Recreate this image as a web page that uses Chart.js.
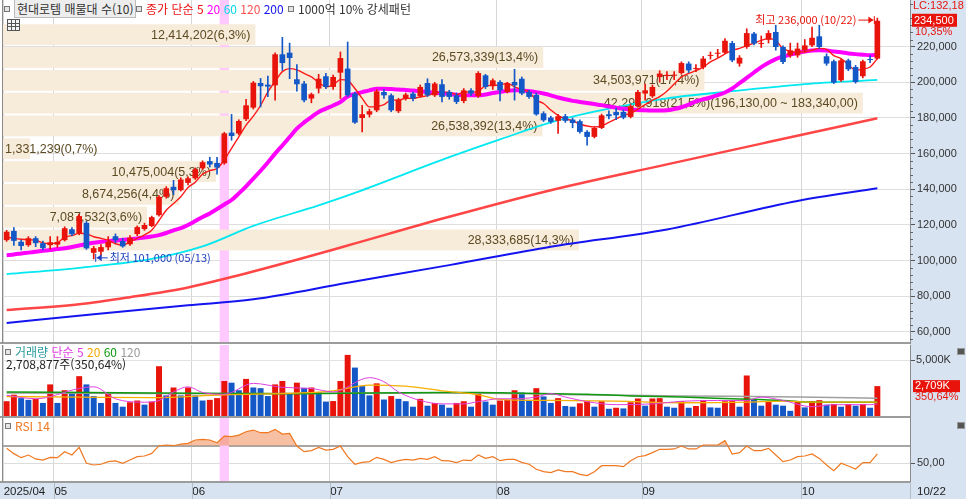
<!DOCTYPE html>
<html lang="ko">
<head>
<meta charset="UTF-8">
<title>현대로템 일봉</title>
<script src="https://cdn.jsdelivr.net/npm/chart.js"></script>
<style>
  body { margin: 0; background: #fff; font-family: "Noto Sans CJK KR", sans-serif; }
  #wrap { position: relative; width: 966px; height: 499px; overflow: hidden; }
  canvas { position: absolute; left: 0; }
  .leg { position: absolute; font-size: 12px; line-height: 14px; white-space: nowrap; color: #333; }
  .ico { display: inline-block; width: 4px; height: 4px; border: 1px solid #777; background: #e4e4e4; margin-right: 4px; vertical-align: 2px; }
  .box { background: #ededed; border: 1px solid #bcbcbc; padding: 0 2px; }
  .tbl { position: absolute; left: 7px; top: 19px; width: 11px; height: 10px; border: 1px solid #555; background:
    linear-gradient(#555, #555) 0 3px / 100% 1px no-repeat,
    linear-gradient(#555, #555) 0 6px / 100% 1px no-repeat,
    linear-gradient(#555, #555) 3px 0 / 1px 100% no-repeat,
    linear-gradient(#555, #555) 7px 0 / 1px 100% no-repeat, #f4f4f4; }
  .pin { position: absolute; width: 6px; height: 5px; background: #555; border: 1px solid #999; }
</style>
</head>
<body>
<div id="wrap">
  <canvas id="cPrice" width="966" height="345" style="top:0"></canvas>
  <canvas id="cVol" width="966" height="74" style="top:344px"></canvas>
  <canvas id="cRsi" width="966" height="81" style="top:418px"></canvas>

  <div class="leg" style="left:4px;top:2px"><span class="ico"></span><span class="box">현대로템 매물대 수(10)</span></div>
  <div class="leg" style="left:136px;top:2px"><span class="ico"></span><span style="color:#ee1111">종가 단순 5</span> <span style="color:#ff00ff">20</span> <span style="color:#00d8e8">60</span> <span style="color:#ff5050">120</span> <span style="color:#1414f0">200</span></div>
  <div class="leg" style="left:288px;top:2px"><span class="ico"></span>1000억 10% 강세패턴</div>
  <div class="tbl"></div>

  <div class="leg" style="left:5px;top:345px"><span class="ico"></span><span style="color:#2a9a9a">거래량</span> <span style="color:#e040e0">단순 5</span> <span style="color:#f5a800">20</span> <span style="color:#109a10">60</span> <span style="color:#9a9a9a">120</span></div>
  <div class="leg" style="left:6px;top:357px;color:#222">2,708,877주(350,64%)</div>
  <div class="pin" style="left:957px;top:348px"></div>

  <div class="leg" style="left:5px;top:419px"><span class="ico"></span><span style="color:#f07820">RSI 14</span></div>
  <div class="pin" style="left:957px;top:422px"></div>
</div>

<script>
// ---- data (prices in thousand won, volume in thousand shares) ----
const firstYear = '2025';
const dates = [
  '04/22','04/23','04/24','04/25','04/28','04/29','04/30',
  '05/02','05/07','05/08','05/09','05/12','05/13','05/14','05/15','05/16','05/19','05/20','05/21','05/22','05/23','05/26','05/27','05/28','05/29','05/30',
  '06/02','06/04','06/05','06/09','06/10','06/11','06/12','06/13','06/16','06/17','06/18','06/19','06/20','06/23','06/24','06/25','06/26','06/27','06/30',
  '07/01','07/02','07/03','07/04','07/07','07/08','07/09','07/10','07/11','07/14','07/15','07/16','07/17','07/18','07/21','07/22','07/23','07/24','07/25','07/28','07/29','07/30','07/31',
  '08/01','08/04','08/05','08/06','08/07','08/08','08/11','08/12','08/13','08/14','08/18','08/19','08/20','08/21','08/22','08/25','08/26','08/27','08/28','08/29',
  '09/01','09/02','09/03','09/04','09/05','09/08','09/09','09/10','09/11','09/12','09/15','09/16','09/17','09/18','09/19','09/22','09/23','09/24','09/25','09/26','09/29','09/30',
  '10/01','10/02','10/10','10/13','10/14','10/15','10/16','10/17','10/20','10/21','10/22'
];
const emptySlots = 4;

const open = [111.5,116.7,110.6,108.7,112.6,109.8,108.7,109,111.5,117.6,
  115.4,121.2,104.4,105,107.5,113.7,111,109.2,114.9,117.7,
  119.4,125.5,135.8,141.4,139.5,143.6,146.2,151.8,155.8,154.8,
  154.6,171.8,171.3,179.3,185.8,199.6,198.7,198.3,215.7,216.6,
  201.7,199.3,190.9,196.5,203.4,197.4,205.4,207.7,193.7,180,
  181.9,184.3,194.6,192.7,183.8,190.9,193.7,192.2,199.6,192.7,
  198.9,194.6,192.7,189.5,195.5,192.2,203.9,197.8,200.2,194.6,
  200.2,202,194.6,193,182.6,180.2,178.4,181,179.1,178.2,
  172.2,169.4,174.4,182.1,183.4,183.4,180.6,186.6,193.7,192.2,
  203,203.5,203.7,205.2,210.5,207.5,208.4,214.8,216,216.6,
  222,210.5,219.8,227.3,221.5,223.9,228.2,219.8,215.1,215.1,
  217.9,220.7,225.8,214.6,211.8,201.1,212.3,208.6,203.4,213,213.3];
const high = [117,118.6,111.5,113.5,113.5,111,113.5,113.5,119,118.5,
  126,122,108,109,113.5,115,112.5,114,119.5,121,
  125,136.5,141.5,145,146.5,147,152,156,158,158,
  172,182,179,190.5,200.5,202.2,203.5,216.5,225.2,222,
  210,200.5,194,204.5,205,204,217,222.6,194.5,187.1,
  185,196,196,193.5,191,194,194.5,198.5,202,200,
  201.5,195.5,194,196.5,196.5,206,204.5,202,201,200,
  207.3,203,195.5,194,183.5,181,182,182,180,179,
  173,175,182.2,184,185.5,184.5,187.5,195.5,199,198.5,
  206.5,206,206,211.5,211.5,210,214.5,217,218.5,224.5,
  223,215,230,228,226,229,232,220.5,222,222,
  224,231,232,216,212.5,213,213,209.5,212.5,215,236];
const low = [110.8,108.5,106,108,107.8,106,106.5,107.5,111,114,
  114.5,106.3,101,103,106,110,107.5,108.5,114,117,
  119,125,135,137,139,142.5,145.5,151,152.5,148.5,
  154,167.5,170.5,178.5,185,186.2,192,190,206.7,202,
  195,189,188.5,194,196.5,196,190.9,192,177,172.2,
  180.5,183.5,191,183.5,183,190,189.5,191.5,192,192,
  189,190.5,188,188.5,192.5,191.5,196.5,196,189.5,194,
  190,193,191,181.5,178,177,171.4,177.5,174.5,171.5,
  164.7,168.8,174,179.5,179,179.5,180,186,190,191.5,
  200,201.5,201.5,204.5,205.5,206,207.5,213,214,216,
  211.5,209,219,221,219.5,222,218,210.5,214,214,
  217,220,219,209.5,199.3,200.5,206.5,199.5,202.5,211,213];
const close = [116.2,111.1,108.2,112.6,109.8,107,110.3,110.5,118.2,114.8,
  125,106.9,107,107.6,110.6,111.5,108,112.9,118.8,120,
  124.4,135.8,140.6,139.5,145.5,146.2,151.3,155.2,153.9,152.2,
  171.4,169.9,178.3,187.1,199.8,197.8,197.6,215.7,210.8,213.6,
  198.9,189.9,193.3,202,197.4,203,213.6,192.7,177.4,182.1,
  183.8,195,192.7,184.3,190.3,193.1,190.9,197.4,192.7,199.3,
  191.8,191.8,189,195.5,193.7,205.2,197.4,201.1,195.5,199.3,
  198.3,193.7,191.8,182,178.7,177.8,181,178.4,177.2,172.2,
  169.4,174.4,181.5,181,181.5,180.2,186.6,194.6,195.5,197.4,
  204.9,204.2,204.3,210.8,206.7,208,213.3,215.3,216.6,223.3,
  212.3,213.8,227.6,221.7,222,227.6,219.8,211.4,217.9,218.9,
  220.7,225,219.8,210.5,199.8,212.3,207.3,200.2,211.8,212.5,234.5];

const ma5 = [113.2,112.5,112,111.7,111.5,110,109.6,110,113.2,114,
  115.4,115,113.4,112.5,111.5,109.5,108.7,110.6,112.5,114.5,
  117.1,122.5,128.3,132,135.8,141,144,148.5,150.5,151.7,
  156.5,163,169.4,176,181,187,194.6,200.5,206,207.7,
  207,205,203,200,197.4,198.5,201.5,201,196.5,191,
  186.2,186.5,187.5,190,190,191,191,191.8,192.5,194,
  194.5,194.5,193,194.6,194.5,195,198,198.3,198.5,199.5,
  197.4,196,194.6,190,188.1,184.5,181.5,179.5,178.5,176.5,
  175.5,175,175.5,177.5,179.5,181.5,182.5,185,187.5,190,
  192,195,199,203,205,206.5,208.5,211.5,213.5,216,
  217.9,219,220.5,222,223.5,224.5,223.5,218.9,217.5,217,
  217,218,219,218.5,215,213.3,210,206.7,207.5,208.6,213.3];
const ma20 = [103.1,103.5,104,104.5,105,105.5,106,106.5,106.9,107.7,
  108.5,109.3,110,110.6,111,111.3,111.7,112,112.5,113,
  113.6,114.3,115.5,117,118.2,120,122.2,124.5,126.5,129,
  131.5,134,137.7,141.7,146,150.4,155,160,164.6,169.3,
  174,177.5,180.5,183.4,185.2,187,189,192,193.5,194.5,
  195.5,196.4,196.4,196.2,196,195.7,195.4,195,194.6,194.2,
  193.8,193.4,193,192.8,192.7,192.7,193.2,194,194.6,195.2,
  195.5,195.4,195,194.5,193.7,192.7,191.5,190.5,189.6,189,
  188.4,187.8,187.2,186.4,185.8,185.2,184.8,184.5,184.3,184.2,
  184.2,184.3,185,186,187.5,189.3,190.5,191.5,192.8,194.3,
  196.5,199.5,202.5,205.5,208.5,211,213,214.5,215.5,216.5,
  217.2,217.8,218,217.8,217.3,216.8,216.2,215.8,215.5,215.2,215.5];
// slow averages read at a few days
const ma60At = [0,10,20,27,34,43,48,61,68,75,81,91,100,110,120];
const ma60 = [92.5,96,101,108,119.5,131,138,158,168,177.5,183.5,191,195,199,201.4];
const ma120At = [0,10,17,25,31,40,47,61,75,91,105,120];
const ma120 = [72.3,75.5,79.5,85,90.8,100.5,108.5,124.6,139.5,154,166.5,179.8];
const ma200At = [0,12,25,34,47,61,75,91,109,120];
const ma200 = [65,70,75,78.3,87.6,97.5,107.8,117.5,133.5,140.6];

const priceTicks = [60,80,100,120,140,160,180,200,220];
const lcText = 'LC:132,18';

// volume profile (10 bands, bottom to top)
const profileEdges = [106.60,119.39,132.18,144.97,157.76,170.55,183.34,196.13,208.92,221.71,234.50];
const profileVolume = [28333685,7087532,8674256,10475004,1331239,26538392,42295918,34503971,26573339,12414202];
const profilePct = [14.3,3.6,4.4,5.3,0.7,13.4,21.5,17.4,13.4,6.3];

const patternDays = ['06/10'];

const volume = [1385,1957,1656,1505,1595,1234,2859,1234,2348,2197,
  3582,2859,1836,1234,2137,1234,903,1294,1445,1084,
  1354,4455,1896,2588,1896,2588,1896,1445,1505,1656,
  3160,3010,2348,3341,2588,2528,1836,2859,3160,2047,
  3010,2558,2588,2197,1354,1400,3160,5448,4335,2709,
  1896,2951,1535,1836,1595,1385,903,1595,993,1234,
  1084,813,1234,1385,903,2107,1355,1084,1445,1505,
  2348,2137,1505,2528,1805,1234,1656,963,903,1204,
  1385,903,1385,722,813,753,1294,1625,993,1625,
  1655,903,813,1385,813,963,1475,843,813,1385,
  1400,903,3642,1505,993,1354,1084,993,542,1354,
  843,1385,1475,1084,1144,903,1144,993,1144,813,2709];
const volRatioText = '350,64%';
const volTicks = [5000];
const volMa5At = [0,4,10,12,15,19,21,23,25,27,30,34,38,42,45,50,52,54,57,60,63,65,68,70,73,75,77,80,84,89,93,98,102,104,107,111,114,119,120];
const volMa5 = [1900,1600,2500,2650,1600,1300,1450,2200,2650,2150,2000,2950,2600,2500,2200,3450,3100,2200,1450,1150,1150,1350,1600,1600,1750,2050,1750,1350,1080,1150,1380,1450,1450,1750,1450,900,1080,1080,1150];
const volMa20At = [0,10,20,30,40,45,50,55,60,65,68,75,84,93,102,107,111,120];
const volMa20 = [1800,1750,1700,1950,2100,2300,2800,2700,2300,1950,1550,1450,1400,1250,1300,1400,1300,1300];
const volMa60At = [0,20,40,60,65,70,80,86,93,100,107,111,120];
const volMa60 = [2200,2100,2050,2150,2150,2100,2000,1850,1750,1600,1450,1300,1300];
const volMa120At = [0,30,60,86,93,109,120];
const volMa120 = [2100,2050,2100,1900,1850,1750,1650];

const rsi = [67,61,56.4,59.4,55,53.7,56.8,56.4,63.2,59.4,
  68.1,50,48.1,48.9,51.9,52.7,50,53.7,57.5,58.3,
  61.3,70,70.8,70,71.9,72.7,76.5,77.2,76.5,73.4,
  81,80.3,82.1,85.9,87.8,84.8,84.8,88.6,83.3,84,
  69.6,63.2,64.4,68.1,65.1,65.9,69.6,57.5,48.9,51.1,
  51.9,56.8,54.5,50.8,53,54.5,53.7,55.6,54.5,57.5,
  53,52.7,50.8,53.7,53,59.4,55.6,57.5,53,54.5,
  54.5,51.1,48.9,43.2,40.5,39.4,42.4,40.5,40.5,37.5,
  36,40.5,47.3,47.3,47.3,46.2,53,57.5,58.7,62.1,
  65.9,65.9,66.3,69.6,66.3,66.3,70.8,70.8,70.8,75.7,
  60.6,62.1,69.6,64.4,64.4,67,59.4,51.9,53.7,57.5,
  58.3,60.6,55.6,48.1,41.6,50,47,43.6,50.8,50.8,60.6];
const rsiTicks = [50, 70];

// ---- helpers ----
const RED = '#e8140c', BLUE = '#1458c8';
const slots = dates.concat(Array(emptySlots).fill(''));
const monthStart = dates.map((d, i) => i === 0 || d.slice(0, 2) !== dates[i - 1].slice(0, 2));
const won = v => Math.round(v * 1000).toLocaleString('en-US');
const pts = (at, vals) => at.map((i, k) => ({ x: dates[i], y: vals[k] }));
const monthGrid = c => monthStart[c.index] ? '#d6d6d6' : 'rgba(0,0,0,0)';

const candleColors = close.map((c, i) => c >= open[i] ? RED : BLUE);
const bodies = close.map((c, i) => [open[i], c]);
const wicks = low.map((l, i) => [l, high[i]]);
const volColors = volume.map((v, i) => i === 0 || v > volume[i - 1] ? RED : BLUE);

function line(data, color, width, order) {
  return { type: 'line', data, borderColor: color, borderWidth: width, pointRadius: 0,
    cubicInterpolationMode: 'monotone', fill: false, order };
}

// no label padding: the plot area must fill the panel exactly
const noPad = s => { s.paddingTop = 0; s.paddingBottom = 0; s.paddingLeft = 0; s.paddingRight = 0; };

function xScale(extra) {
  return Object.assign({
    type: 'category', offset: true,
    grid: { color: monthGrid, offset: true, drawTicks: false },
    border: { display: false },
    ticks: { display: false, autoSkip: false },
    afterFit: s => { s.height = 0; noPad(s); }
  }, extra || {});
}

const axisFont = { family: '"Liberation Sans", sans-serif', size: 11 };

function drawArrow(ctx, x1, x2, y) {
  const dir = Math.sign(x2 - x1);
  ctx.beginPath(); ctx.moveTo(x1, y); ctx.lineTo(x2, y); ctx.stroke();
  ctx.beginPath(); ctx.moveTo(x2, y); ctx.lineTo(x2 - dir * 5, y - 3.5); ctx.lineTo(x2 - dir * 5, y + 3.5); ctx.closePath(); ctx.fill();
  ctx.beginPath(); ctx.moveTo(x2 + dir, y - 4); ctx.lineTo(x2 + dir, y + 4); ctx.stroke();
}

// ---- plugins ----
const axisBg = {
  id: 'axisBg',
  beforeDraw(chart) {
    const { ctx, chartArea: a, width, height } = chart;
    ctx.save();
    ctx.fillStyle = '#d7e3f1';
    ctx.fillRect(a.right, 0, width - a.right, height);
    ctx.restore();
  }
};

const frame = {
  id: 'frame',
  afterDraw(chart) {
    const { ctx, chartArea: a } = chart;
    ctx.save();
    ctx.strokeStyle = '#9c9c9c'; ctx.lineWidth = 2;
    ctx.beginPath(); ctx.moveTo(0, a.bottom); ctx.lineTo(a.right, a.bottom); ctx.stroke();
    ctx.lineWidth = 1; ctx.strokeStyle = '#8a8a8a';
    ctx.beginPath(); ctx.moveTo(a.left - 0.5, a.top); ctx.lineTo(a.left - 0.5, a.bottom); ctx.stroke();
    ctx.restore();
  }
};

const pattern = {
  id: 'pattern',
  beforeDatasetsDraw(chart) {
    const { ctx, chartArea: a, scales: { x } } = chart;
    const slot = x.getPixelForValue(1) - x.getPixelForValue(0);
    ctx.save();
    ctx.fillStyle = '#ffc8ff';
    patternDays.forEach(d => {
      const cx = x.getPixelForValue(dates.indexOf(d));
      ctx.fillRect(cx - slot / 2 - 1, a.top, slot + 2, a.bottom - a.top);
    });
    ctx.restore();
  }
};

const profile = {
  id: 'profile',
  beforeDatasetsDraw(chart) {
    const { ctx, chartArea: a, scales: { y, xp } } = chart;
    const shift = 2.5;
    const maxI = profileVolume.indexOf(Math.max(...profileVolume));
    ctx.save();
    ctx.beginPath(); ctx.rect(a.left, a.top, a.right - a.left, a.bottom - a.top); ctx.clip();
    const x0 = xp.getPixelForValue(0);
    const bands = profileVolume.map((vol, i) => ({
      top: y.getPixelForValue(profileEdges[i + 1]) + shift + 1,
      bot: y.getPixelForValue(profileEdges[i]) + shift - 1,
      end: xp.getPixelForValue(vol)
    }));
    ctx.fillStyle = '#f7ebda';
    bands.forEach(b => ctx.fillRect(x0, b.top, b.end - x0, b.bot - b.top));
    ctx.font = '12.5px "Liberation Sans", sans-serif';
    ctx.fillStyle = '#5c4b22';
    ctx.textBaseline = 'middle';
    profileVolume.forEach((vol, i) => {
      let text = vol.toLocaleString('en-US') + '(' + profilePct[i].toFixed(1).replace('.', ',') + '%)';
      if (i === maxI) text += '(' + won(profileEdges[i + 1]) + ',00 ~ ' + won(profileEdges[i]) + ',00)';
      const b = bands[i];
      const w = ctx.measureText(text).width;
      const yc = (b.top + b.bot) / 2 + 0.5;
      if (b.end - 5 - w < x0 + 2) { ctx.textAlign = 'left'; ctx.fillText(text, x0 + 2, yc); }
      else { ctx.textAlign = 'right'; ctx.fillText(text, b.end - 5, yc); }
    });
    ctx.restore();
  }
};

const extremes = {
  id: 'extremes',
  afterDatasetsDraw(chart) {
    const { ctx, scales: { x, y } } = chart;
    const hi = Math.max(...high), hiI = high.indexOf(hi);
    const lo = Math.min(...low), loI = low.indexOf(lo);
    ctx.save();
    ctx.font = '11px "Noto Sans CJK KR", sans-serif';
    ctx.textBaseline = 'middle';
    ctx.lineWidth = 1;
    let cx = x.getPixelForValue(hiI), cy = y.getPixelForValue(hi) + 2;
    ctx.fillStyle = ctx.strokeStyle = RED;
    ctx.textAlign = 'right';
    ctx.fillText('최고 ' + won(hi) + ' (' + dates[hiI] + ')', cx - 21, cy);
    drawArrow(ctx, cx - 19, cx - 4, cy);
    cx = x.getPixelForValue(loI); cy = y.getPixelForValue(lo) - 1;
    ctx.fillStyle = ctx.strokeStyle = '#1d3fc0';
    ctx.textAlign = 'left';
    ctx.fillText('최저 ' + won(lo) + ' (' + dates[loI] + ')', cx + 16, cy);
    drawArrow(ctx, cx + 14, cx + 3, cy);
    ctx.restore();
  }
};

const priceTag = {
  id: 'priceTag',
  afterDraw(chart) {
    const { ctx, chartArea: a, scales: { y } } = chart;
    const last = close[close.length - 1], prev = close[close.length - 2];
    const yy = y.getPixelForValue(last);
    ctx.save();
    ctx.strokeStyle = '#666'; ctx.lineWidth = 1;
    for (let v = 56; v < 246; v += 4) {
      if (v % 20 === 0) continue;
      const py = Math.round(y.getPixelForValue(v)) + 0.5;
      ctx.beginPath(); ctx.moveTo(a.right, py); ctx.lineTo(a.right + 3, py); ctx.stroke();
    }
    ctx.font = axisFont.size + 'px ' + axisFont.family;
    ctx.textBaseline = 'middle'; ctx.textAlign = 'left';
    ctx.fillStyle = RED;
    ctx.fillText(lcText, a.right + 3, 6);
    ctx.fillRect(a.right + 2, yy - 7, 45, 13);
    ctx.fillText(((last / prev - 1) * 100).toFixed(2).replace('.', ',') + '%', a.right + 5, yy + 11);
    ctx.fillStyle = '#fff';
    ctx.fillText(won(last), a.right + 4, yy);
    ctx.restore();
  }
};

const volTag = {
  id: 'volTag',
  afterDraw(chart) {
    const { ctx, chartArea: a, scales: { y } } = chart;
    const last = volume[volume.length - 1];
    const yy = y.getPixelForValue(last);
    ctx.save();
    ctx.font = axisFont.size + 'px ' + axisFont.family;
    ctx.textBaseline = 'middle'; ctx.textAlign = 'left';
    ctx.fillStyle = RED;
    ctx.fillRect(a.right + 3, yy - 6, 47, 12);
    ctx.fillText(volRatioText, a.right + 5, yy + 11);
    ctx.fillStyle = '#fff';
    ctx.fillText(last.toLocaleString('en-US') + 'K', a.right + 5, yy);
    ctx.restore();
  }
};

const dateStrip = {
  id: 'dateStrip',
  beforeDraw(chart) {
    const { ctx, chartArea: a, width, height } = chart;
    ctx.save();
    ctx.fillStyle = '#d7e3f1';
    ctx.fillRect(0, a.bottom, width, height - a.bottom);
    ctx.restore();
  },
  afterDraw(chart) {
    const { ctx, chartArea: a, height, scales: { x } } = chart;
    const slot = x.getPixelForValue(1) - x.getPixelForValue(0);
    ctx.save();
    ctx.strokeStyle = '#b4bcc6'; ctx.lineWidth = 1;
    monthStart.forEach((m, i) => {
      if (!m || i === 0) return;
      const px = Math.round(x.getPixelForValue(i) - slot / 2) + 0.5;
      ctx.beginPath(); ctx.moveTo(px, a.bottom); ctx.lineTo(px, height); ctx.stroke();
    });
    ctx.beginPath(); ctx.moveTo(a.right + 0.5, a.bottom); ctx.lineTo(a.right + 0.5, height); ctx.stroke();
    ctx.font = '11.5px "Liberation Sans", sans-serif';
    ctx.fillStyle = '#222'; ctx.textBaseline = 'middle'; ctx.textAlign = 'left';
    ctx.fillText(dates[dates.length - 1], a.right + 7, (a.bottom + height) / 2 + 1);
    ctx.restore();
  }
};

const base = {
  responsive: false, animation: false, events: [], devicePixelRatio: 1,
  plugins: { legend: { display: false }, tooltip: { enabled: false } }
};

function yRight(extra) {
  return Object.assign({
    position: 'right',
    afterFit: s => { s.width = 56; noPad(s); },
    border: { color: '#8c8c8c' }
  }, extra);
}

// ---- price chart ----
new Chart(document.getElementById('cPrice'), {
  type: 'bar',
  data: {
    labels: slots,
    datasets: [
      { type: 'bar', data: bodies, backgroundColor: candleColors, grouped: false, barPercentage: 0.78, categoryPercentage: 1, minBarLength: 1, order: 0 },
      { type: 'bar', data: wicks, backgroundColor: candleColors, grouped: false, barThickness: 1, order: 1 },
      line(ma5, '#ff1a1a', 1.4, 2),
      line(ma20, '#ff00ff', 4, 3),
      line(pts(ma60At, ma60), '#00e8f0', 1.8, 4),
      line(pts(ma120At, ma120), '#ff4646', 2.5, 5),
      line(pts(ma200At, ma200), '#1414f0', 2, 6)
    ]
  },
  options: Object.assign({}, base, {
    layout: { padding: { left: 3, top: 0, right: 0, bottom: 2 } },
    scales: {
      x: xScale(),
      xp: {
        type: 'linear', position: 'top', offset: false, min: 0, max: Math.max(...profileVolume) / 0.948,
        grid: { display: false, offset: false }, border: { display: false }, ticks: { display: false },
        afterFit: s => { s.height = 0; noPad(s); }
      },
      y: yRight({
        min: 53.83, max: 246.15,
        afterBuildTicks: s => { s.ticks = priceTicks.map(v => ({ value: v })); },
        grid: { color: '#dedede', tickColor: '#555', tickLength: 5 },
        ticks: { padding: 2, color: '#333', font: axisFont, callback: v => won(v) }
      })
    }
  }),
  plugins: [axisBg, pattern, profile, extremes, priceTag, frame]
});

// ---- volume chart ----
new Chart(document.getElementById('cVol'), {
  type: 'bar',
  data: {
    labels: slots,
    datasets: [
      { type: 'bar', data: volume, backgroundColor: volColors, grouped: false, barPercentage: 0.82, categoryPercentage: 1, order: 4 },
      line(pts(volMa5At, volMa5), '#e040e0', 1, 0),
      line(pts(volMa20At, volMa20), '#f5b000', 1.3, 1),
      line(pts(volMa60At, volMa60), '#109a10', 1.5, 2),
      line(pts(volMa120At, volMa120), '#a0a0a0', 1.5, 3)
    ]
  },
  options: Object.assign({}, base, {
    layout: { padding: { left: 3, top: 1, right: 0, bottom: 1 } },
    scales: {
      x: xScale(),
      y: yRight({
        min: 0, max: 6316,
        afterBuildTicks: s => { s.ticks = volTicks.map(v => ({ value: v })); },
        grid: { color: '#e2e2e2', tickColor: '#555', tickLength: 5 },
        ticks: { padding: 1, color: '#333', font: axisFont, callback: v => v.toLocaleString('en-US') + 'K' }
      })
    }
  }),
  plugins: [axisBg, pattern, volTag, frame]
});

// ---- RSI chart + date axis ----
new Chart(document.getElementById('cRsi'), {
  type: 'bar',
  data: {
    labels: slots,
    datasets: [{
      type: 'line', data: rsi, borderColor: '#f07820', borderWidth: 1.2, pointRadius: 0,
      fill: { target: { value: 70 }, above: 'rgba(242,150,100,0.6)', below: 'rgba(0,0,0,0)' }
    }]
  },
  options: Object.assign({}, base, {
    layout: { padding: { left: 3, top: 0, right: 0, bottom: 0 } },
    scales: {
      x: xScale({
        ticks: {
          display: true, autoSkip: false, maxRotation: 0, align: 'start', labelOffset: -3, padding: 3,
          color: '#222', font: { family: '"Liberation Sans", sans-serif', size: 11.5 },
          callback: (v, i) => monthStart[i] ? (i === 0 ? firstYear + '/' : '') + dates[i].slice(0, 2) : ''
        },
        afterFit: s => { s.height = 17; noPad(s); }
      }),
      y: yRight({
        min: 28.75, max: 101.5,
        afterBuildTicks: s => { s.ticks = rsiTicks.map(v => ({ value: v })); },
        grid: {
          color: c => c.tick && c.tick.value === 70 ? '#a6a6a6' : '#dcdcdc',
          lineWidth: c => c.tick && c.tick.value === 70 ? 2 : 1,
          tickColor: c => c.tick && c.tick.value === 50 ? '#555' : 'rgba(0,0,0,0)', tickLength: 5
        },
        ticks: { padding: 2, color: '#333', font: axisFont, callback: v => v === 50 ? v.toFixed(2).replace('.', ',') : '' }
      })
    }
  }),
  plugins: [axisBg, dateStrip, pattern, frame]
});
</script>
</body>
</html>
